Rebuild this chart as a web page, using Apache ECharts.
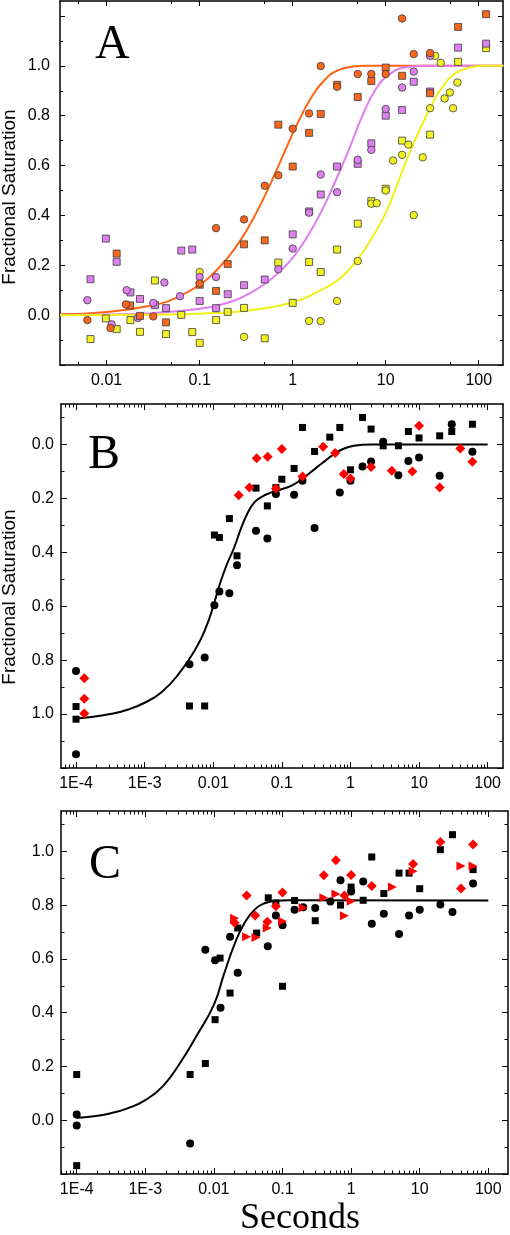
<!DOCTYPE html>
<html>
<head>
<meta charset="utf-8">
<script src="https://cdn.jsdelivr.net/npm/echarts@6/dist/echarts.min.js"></script>
<style>html,body{margin:0;padding:0;background:#fff}#c{width:510px;height:1235px}</style>
</head>
<body>
<div id="c"></div>
<script>
// ---------- Panel A (time in seconds, fractional saturation) ----------
const aOrangeCircT = [0.0062,0.011,0.0161,0.0317,0.1,0.15,0.3,0.5,0.7,1,1.5,2,3,5,7,10,15,20,30];
const aOrangeCircV = [-0.02,-0.052,0.043,-0.005,0.127,0.349,0.384,0.519,0.561,0.748,0.809,0.999,0.916,0.967,0.967,0.967,1.19,1.047,1.051];
const aOrangeSqT = [0.0128,0.0178,0.0228,0.0434,0.1,0.15,0.2,0.3,0.5,0.7,1,1.5,2,3,5,7,10,15,30,60,120];
const aOrangeSqV = [0.247,0.039,-0.003,-0.029,0.122,0.097,0.205,0.284,0.3,0.764,0.596,0.731,0.807,0.924,0.875,0.939,0.993,0.96,0.89,1.156,1.207];
const aVioletCircT = [0.0062,0.0113,0.0164,0.0216,0.0317,0.0417,0.0614,0.1,0.15,0.7,1,1.5,2,3,5,7,10,15,20,30];
const aVioletCircV = [0.06,-0.037,0.1,-0.011,0.049,0.131,0.076,0.153,0.153,0.184,0.267,0.411,0.564,0.493,0.623,0.663,0.827,0.913,0.977,1.04];
const aVioletSqT = [0.0067,0.0098,0.0128,0.018,0.0228,0.033,0.0434,0.0634,0.0832,0.1,0.15,0.2,0.3,0.5,1,1.5,2,3,5,7,10,15,20,30,60,120];
const aVioletSqV = [0.144,0.307,0.214,0.091,0.065,0.04,0.028,0.259,0.263,0.057,0.028,0.084,0.12,0.143,0.324,0.416,0.484,0.596,0.607,0.689,0.8,0.823,0.936,0.897,1.073,1.089];
const aYellowCircT = [0.1,0.3,1.5,2,3,5,7,8,10,12,15,17.5,20,25,30,34,39,43,49,53,59];
const aYellowCircV = [0.173,-0.087,-0.023,-0.024,0.057,0.217,0.447,0.449,0.5,0.62,0.643,0.684,0.401,0.633,0.83,1.04,1.012,0.869,0.893,0.83,0.933];
const aYellowSqT = [0.0067,0.0098,0.0128,0.018,0.0228,0.033,0.0434,0.0634,0.0832,0.1,0.15,0.2,0.3,0.5,0.7,1,1.5,2,3,5,7,10,15,30,60,120];
const aYellowSqV = [-0.096,-0.013,-0.056,-0.02,-0.067,0.139,-0.076,0.001,-0.068,-0.111,-0.02,0.013,0.029,-0.093,0.211,0.049,0.213,0.173,0.263,0.367,0.457,0.507,0.7,0.724,1.016,1.071];
const aOrangeFitT = [0.00316,0.01,0.0316,0.0562,0.1,0.141,0.2,0.282,0.398,0.562,0.794,1.12,1.58,2.24,3.16,4.47,6.31,184];
const aOrangeFitV = [0.004,0.013,0.04,0.07,0.122,0.168,0.23,0.307,0.404,0.518,0.644,0.767,0.872,0.946,0.984,0.997,1,1];
const aVioletFitT = [0.00316,0.01,0.0316,0.1,0.2,0.316,0.5,0.708,1,1.41,2,2.82,3.98,5.62,7.94,11.2,15.8,25,184];
const aVioletFitV = [0.001,0.003,0.008,0.026,0.05,0.08,0.125,0.172,0.23,0.31,0.41,0.53,0.66,0.8,0.91,0.968,0.993,1,1];
const aYellowFitT = [0.00316,0.0316,0.1,0.316,1,1.78,3.16,5.01,7.08,10,14.1,20,28.2,39.8,56.2,79.4,112,184];
const aYellowFitV = [0,0.002,0.006,0.018,0.052,0.09,0.145,0.225,0.31,0.41,0.55,0.69,0.81,0.91,0.97,0.993,1,1];

// ---------- Panel B ----------
const bSqT = [1e-4,1e-4,0.0045,0.0075,0.0104,0.0123,0.0172,0.0222,0.042,0.0615,0.082,0.1,0.151,0.2,0.3,0.5,0.7,1,1.5,2,3,5,7,10,20,30,60];
const bSqV = [0.972,1.019,0.97,0.97,0.336,0.345,0.275,0.413,0.162,0.228,0.16,0.129,0.089,-0.063,0.026,-0.027,-0.063,0.094,-0.1,-0.057,0.005,0.005,-0.048,-0.024,-0.032,-0.048,-0.075];
const bCircT = [1e-4,1e-4,0.0045,0.0075,0.0104,0.0123,0.0172,0.0222,0.042,0.0615,0.082,0.151,0.2,0.3,0.7,1,1.5,2,3,5,7,10,20,30,60];
const bCircV = [0.84,1.149,0.815,0.79,0.596,0.545,0.552,0.448,0.32,0.349,0.184,0.187,0.135,0.31,0.178,0.135,0.082,0.063,-0.01,0.114,0.061,0.048,0.116,-0.075,0.027];
const bDiaT = [1.32e-4,1.32e-4,1.32e-4,0.0235,0.0337,0.043,0.0622,0.082,0.1,0.2,0.4,0.6,0.8,1,2,4,8,10,20,40,60];
const bDiaV = [0.867,0.943,0.998,0.188,0.16,0.051,0.046,0.163,0.017,0.119,0.009,0.032,0.11,0.126,0.084,0.098,0.1,-0.069,0.16,0.015,0.064];
const bFitT = [1e-4,1.78e-4,3.16e-4,5.62e-4,1e-3,1.78e-3,3.16e-3,5.62e-3,7.94e-3,0.01,0.0126,0.0158,0.02,0.0251,0.0316,0.0398,0.0501,0.0708,0.1,0.141,0.2,0.282,0.398,0.562,0.794,1.12,2,100];
const bFitV = [1.016,1.01,1.0,0.984,0.958,0.918,0.85,0.755,0.675,0.6,0.515,0.445,0.385,0.315,0.255,0.215,0.195,0.178,0.166,0.152,0.127,0.097,0.067,0.038,0.016,0.005,0,0];

// ---------- Panel C ----------
const cCircT = [1e-4,1e-4,0.0045,0.0075,0.0104,0.0125,0.0172,0.0222,0.061,0.08,0.1,0.15,0.2,0.3,0.5,0.7,1,1.5,2,3,5,7,10,20,30,60];
const cCircV = [0.021,-0.02,-0.087,0.634,0.595,0.418,0.682,0.548,0.647,0.761,0.725,0.783,0.792,0.789,0.813,0.892,0.851,0.888,0.731,0.768,0.693,0.761,0.783,0.802,0.774,0.88];
const cSqT = [1e-4,1e-4,0.0045,0.0075,0.0104,0.0123,0.0172,0.0222,0.042,0.062,0.08,0.1,0.15,0.3,0.7,1,1.5,2,3,5,7,10,20,30,60];
const cSqV = [0.17,-0.169,0.17,0.211,0.374,0.603,0.473,0.715,0.696,0.827,0.808,0.498,0.817,0.742,0.8,0.867,0.818,0.979,0.843,0.919,0.919,0.861,1.006,1.062,0.932];
const cDiaT = [0.02,0.03,0.04,0.06,0.08,0.1,0.4,0.6,0.8,1,2,8,20,40,60];
const cDiaV = [0.734,0.836,0.761,0.738,0.796,0.847,0.911,0.967,0.836,0.912,0.871,0.953,1.035,0.862,1.025];
const cTriT = [0.02,0.03,0.041,0.06,0.1,0.2,0.4,0.6,0.8,1,4,8,40,60];
const cTriV = [0.751,0.682,0.68,0.715,0.74,0.79,0.827,0.841,0.76,0.814,0.867,0.926,0.945,0.945];
const cFitT = [1e-4,1.78e-4,3.16e-4,5.62e-4,1e-3,1.78e-3,3.16e-3,5.62e-3,0.01,0.0141,0.02,0.0282,0.0398,0.0562,0.0794,0.126,100];
const cFitV = [0.009,0.015,0.026,0.045,0.075,0.125,0.21,0.315,0.43,0.545,0.655,0.735,0.785,0.808,0.816,0.818,0.817];

// ---------- Tick labels ----------
const aXTickSec = [0.01,0.1,1,10,100];
const aXTickLabels = ['0.01','0.1','1','10','100'];
const bcXTickSec = [1e-4,1e-3,0.01,0.1,1,10,100];
const bcXTickLabels = ['1E-4','1E-3','0.01','0.1','1','10','100'];
const yTickVals = [0,0.2,0.4,0.6,0.8,1.0];
const yTickLabels = ['0.0','0.2','0.4','0.6','0.8','1.0'];

// ---------- build ----------
const L = v => Math.log10(v);
const FONT = '"Liberation Sans", Arial, sans-serif';
const SERIF = '"Liberation Serif", "Times New Roman", serif';

function logMinors(n0, n1, ks) {
  const out = [];
  for (let n = n0; n <= n1; n++) ks.forEach(k => out.push(L(k * Math.pow(10, n))));
  return out;
}
function steps(a, b, s) { const o = []; for (let v = a; v <= b + 1e-9; v += s) o.push(Math.round(v * 100) / 100); return o; }
function fmtFrom(secs, labels, isLog) {
  return function (v) {
    for (let i = 0; i < secs.length; i++) {
      const t = isLog ? L(secs[i]) : secs[i];
      if (Math.abs(t - v) < 1e-6) return labels[i];
    }
    return '';
  };
}

const grids = [
  { left: 60, top: 1, width: 443, height: 364, xmin: -2.502, xmax: 2.261, ymin: -0.2, ymax: 1.26, inv: false,
    xMaj: aXTickSec.map(L), xMin: logMinors(-3, 1, [5]), xLabSec: aXTickSec, xLab: aXTickLabels,
    yMaj: steps(-0.2, 1.2, 0.2), yMin: steps(-0.1, 1.1, 0.2), majLen: 5, minLen: 3, yMargin: 10 },
  { left: 61, top: 404, width: 442, height: 364, xmin: -4.219, xmax: 2.224, ymin: -0.15, ymax: 1.2, inv: true,
    xMaj: bcXTickSec.map(L), xMin: logMinors(-5, 1, [2,3,4,5,6,7,8,9]), xLabSec: bcXTickSec, xLab: bcXTickLabels,
    yMaj: steps(0, 1.2, 0.2), yMin: steps(-0.1, 1.1, 0.2), majLen: 6, minLen: 3.5, yMargin: 7 },
  { left: 61, top: 811, width: 447, height: 363, xmin: -4.229, xmax: 2.287, ymin: -0.2, ymax: 1.15, inv: false,
    xMaj: bcXTickSec.map(L), xMin: logMinors(-5, 1, [2,3,4,5,6,7,8,9]), xLabSec: bcXTickSec, xLab: bcXTickLabels,
    yMaj: steps(-0.2, 1.0, 0.2), yMin: steps(-0.1, 1.1, 0.2), majLen: 6, minLen: 3.5, yMargin: 7 }
];

function axis(g, gi, pos, isX, ticks, len, showLine, label) {
  const a = {
    type: 'value', gridIndex: gi, position: pos,
    min: isX ? g.xmin : g.ymin, max: isX ? g.xmax : g.ymax,
    inverse: isX ? false : g.inv,
    axisLine: { show: showLine, onZero: false, lineStyle: { color: '#000', width: 1.5 } },
    axisTick: { show: true, inside: true, length: len, customValues: ticks, lineStyle: { color: '#000', width: 1 } },
    axisLabel: { show: false },
    splitLine: { show: false }, minorTick: { show: false }, minorSplitLine: { show: false },
    axisPointer: { show: false }
  };
  if (label) a.axisLabel = label;
  return a;
}

const xAxis = [], yAxis = [];
grids.forEach((g, gi) => {
  xAxis.push(axis(g, gi, 'bottom', true, g.xMaj, g.majLen, true, {
    show: true, customValues: g.xMaj, formatter: fmtFrom(g.xLabSec, g.xLab, true),
    fontFamily: FONT, fontSize: 16, color: '#000', margin: 8 }));
  xAxis.push(axis(g, gi, 'bottom', true, g.xMin, g.minLen, false));
  xAxis.push(axis(g, gi, 'top', true, g.xMaj, g.majLen, true));
  xAxis.push(axis(g, gi, 'top', true, g.xMin, g.minLen, false));
  yAxis.push(axis(g, gi, 'left', false, g.yMaj, g.majLen, true, {
    show: true, customValues: yTickVals, formatter: fmtFrom(yTickVals, yTickLabels, false),
    fontFamily: FONT, fontSize: 16, color: '#000', margin: g.yMargin }));
  yAxis.push(axis(g, gi, 'left', false, g.yMin, g.minLen, false));
  yAxis.push(axis(g, gi, 'right', false, g.yMaj, g.majLen, true));
  yAxis.push(axis(g, gi, 'right', false, g.yMin, g.minLen, false));
});

const pts = (T, V) => T.map((t, i) => [L(t), V[i]]);
function fit(gi, T, V, color) {
  return { type: 'line', xAxisIndex: gi * 4, yAxisIndex: gi * 4, data: pts(T, V), showSymbol: false,
    smooth: 0.5, lineStyle: { color, width: 2 }, silent: true, z: 2 };
}
function sc(gi, T, V, symbol, size, color, border, rot) {
  return { type: 'scatter', xAxisIndex: gi * 4, yAxisIndex: gi * 4, data: pts(T, V), symbol, symbolSize: size,
    symbolRotate: rot || 0,
    itemStyle: { color, borderColor: border || color, borderWidth: border ? 0.8 : 0, opacity: 1 }, silent: true, z: 3 };
}

const ORANGE = '#F8661C', VIOLET = '#DD7FEE', YELLOW = '#F2F222', EDGE = '#3c3c3c';
const series = [
  fit(0, aOrangeFitT, aOrangeFitV, '#FF6412'),
  fit(0, aVioletFitT, aVioletFitV, '#E07BF2'),
  fit(0, aYellowFitT, aYellowFitV, '#F0F014'),
  sc(0, aYellowSqT, aYellowSqV, 'rect', 7, YELLOW, EDGE),
  sc(0, aYellowCircT, aYellowCircV, 'circle', 7.5, YELLOW, EDGE),
  sc(0, aVioletSqT, aVioletSqV, 'rect', 7, VIOLET, EDGE),
  sc(0, aVioletCircT, aVioletCircV, 'circle', 7.5, VIOLET, EDGE),
  sc(0, aOrangeSqT, aOrangeSqV, 'rect', 7, ORANGE, EDGE),
  sc(0, aOrangeCircT, aOrangeCircV, 'circle', 7.5, ORANGE, EDGE),
  fit(1, bFitT, bFitV, '#000'),
  sc(1, bSqT, bSqV, 'rect', 7, '#000'),
  sc(1, bCircT, bCircV, 'circle', 8, '#000'),
  sc(1, bDiaT, bDiaV, 'diamond', 10, '#FF0000'),
  fit(2, cFitT, cFitV, '#000'),
  sc(2, cSqT, cSqV, 'rect', 7, '#000'),
  sc(2, cCircT, cCircV, 'circle', 8, '#000'),
  sc(2, cDiaT, cDiaV, 'diamond', 10, '#FF0000'),
  sc(2, cTriT, cTriV, 'triangle', 9, '#FF0000', null, -90)
];

function txt(x, y, text, font, align, rot) {
  return { type: 'text', x, y, rotation: rot || 0, silent: true, z: 10,
    style: { text, font, fill: '#000', align: align || 'left', verticalAlign: 'middle',
      textAlign: align || 'left', textVerticalAlign: 'middle' } };
}

const chart = echarts.init(document.getElementById('c'), null, { renderer: 'canvas' });
chart.setOption({
  animation: false,
  backgroundColor: '#fff',
  grid: grids.map(g => ({ left: g.left, top: g.top, width: g.width, height: g.height, containLabel: false, outerBoundsMode: 'none' })),
  xAxis, yAxis, series,
  graphic: [
    txt(95, 45, 'A', '48px ' + SERIF),
    txt(88, 455, 'B', '48px ' + SERIF),
    txt(89, 865, 'C', '48px ' + SERIF),
    txt(300, 1219, 'Seconds', '36px ' + SERIF, 'center'),
    txt(9.7, 197, 'Fractional Saturation', '19px ' + FONT, 'center', Math.PI / 2),
    txt(9.7, 597, 'Fractional Saturation', '19px ' + FONT, 'center', Math.PI / 2)
  ]
});
</script>
</body>
</html>
